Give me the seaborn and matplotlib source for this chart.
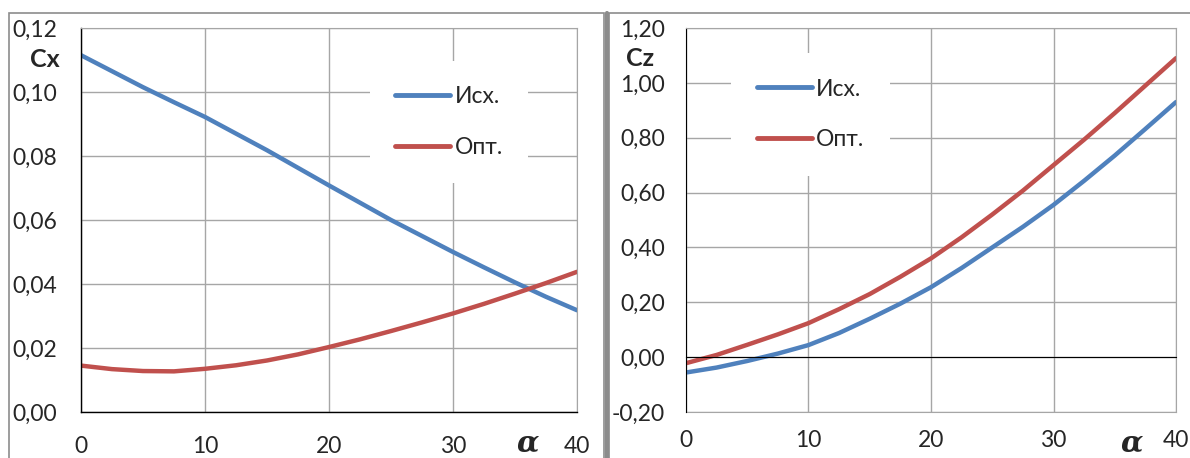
import numpy as np
import pandas as pd
import matplotlib
matplotlib.use('Agg')
import matplotlib.pyplot as plt
import matplotlib.ticker as mticker
from matplotlib.patches import Rectangle
from matplotlib.lines import Line2D
import seaborn as sns

sns.set_style('white')
plt.rcParams['font.family'] = ['Lato', 'Open Sans', 'DejaVu Sans']

# Данные (шаг 2,5 градуса)
alpha = [0, 2.5, 5, 7.5, 10, 12.5, 15, 17.5, 20, 22.5, 25, 27.5, 30, 32.5, 35, 37.5, 40]
cx_ish = [0.1115, 0.1065, 0.1015, 0.0968, 0.0922, 0.0870, 0.0818, 0.0763, 0.0708,
          0.0654, 0.0600, 0.0550, 0.0500, 0.0452, 0.0405, 0.0360, 0.0318]
cx_opt = [0.0145, 0.0134, 0.0128, 0.0127, 0.0135, 0.0146, 0.0161, 0.0180, 0.0203,
          0.0227, 0.0253, 0.0280, 0.0308, 0.0338, 0.0370, 0.0403, 0.0438]
cz_ish = [-0.056, -0.038, -0.014, 0.013, 0.044, 0.088, 0.140, 0.195, 0.255,
          0.325, 0.400, 0.475, 0.555, 0.643, 0.735, 0.832, 0.930]
cz_opt = [-0.022, 0.008, 0.045, 0.083, 0.124, 0.175, 0.230, 0.293, 0.360,
          0.437, 0.520, 0.607, 0.700, 0.793, 0.890, 0.990, 1.090]
labels = ['Исх.', 'Опт.']
colors = ['#4F81BD', '#C0504D']

GRID = '#A6A6A6'
FS = 16.5


def comma_fmt(v, pos):
    return f'{v:.2f}'.replace('.', ',').replace('-0,00', '0,00')


def make_df(a, b):
    return pd.DataFrame({
        'alpha': alpha * 2,
        'val': a + b,
        'serie': [labels[0]] * len(a) + [labels[1]] * len(b),
    })


fig = plt.figure(figsize=(11.9, 4.58), dpi=100)

# рамки панелей как в Excel
fig.add_artist(Rectangle((9 / 1190, -0.1), (604 - 9) / 1190, (458 - 13) / 458 + 0.1,
                         transform=fig.transFigure, fill=False, edgecolor='#8C8C8C', lw=1.2))
fig.add_artist(Rectangle((609 / 1190, -0.1), 0.5, (458 - 13) / 458 + 0.1,
                         transform=fig.transFigure, fill=False, edgecolor='#8C8C8C', lw=1.2))
fig.add_artist(Line2D([606.5 / 1190, 606.5 / 1190], [0, (458 - 13) / 458],
                      transform=fig.transFigure, color='#8C8C8C', lw=3))

ax1 = fig.add_axes([81 / 1190, 1 - 412 / 458, (577 - 81) / 1190, (412 - 28) / 458])
ax2 = fig.add_axes([686 / 1190, 1 - 412 / 458, (1176 - 686) / 1190, (412 - 28) / 458])

# --- Cx ---
sns.lineplot(data=make_df(cx_ish, cx_opt), x='alpha', y='val', hue='serie',
             palette=colors, linewidth=3.2, ax=ax1, legend=False)
ax1.set_xlim(0, 40)
ax1.set_ylim(0, 0.12)
ax1.set_xticks(np.arange(0, 41, 10))
ax1.set_yticks(np.arange(0, 0.121, 0.02))
ax1.yaxis.set_major_formatter(mticker.FuncFormatter(comma_fmt))
ax1.grid(True, color=GRID, lw=1)
for s in ['top', 'right']:
    ax1.spines[s].set_color(GRID)
for s in ['left', 'bottom']:
    ax1.spines[s].set_color('black')
    ax1.spines[s].set_linewidth(1)
ax1.tick_params(axis='both', labelsize=FS, length=6, width=1, color='black',
                direction='out')
ax1.tick_params(axis='y', pad=11)
ax1.tick_params(axis='x', pad=11)
ax1.set_xlabel('')
ax1.set_ylabel('')
ax1.text(-0.072, 0.917, 'Cx', transform=ax1.transAxes, fontsize=18,
         fontweight='bold', ha='center', va='center')
ax1.text(0.90, -0.08, 'α', transform=ax1.transAxes, fontsize=21,
         fontweight='bold', fontstyle='italic', family='DejaVu Serif',
         ha='center', va='center')

# --- Cz ---
sns.lineplot(data=make_df(cz_ish, cz_opt), x='alpha', y='val', hue='serie',
             palette=colors, linewidth=3.2, ax=ax2, legend=False)
ax2.set_xlim(0, 40)
ax2.set_ylim(-0.2, 1.2)
ax2.set_xticks(np.arange(0, 41, 10))
ax2.set_yticks(np.arange(-0.2, 1.21, 0.2))
ax2.yaxis.set_major_formatter(mticker.FuncFormatter(comma_fmt))
ax2.grid(True, color=GRID, lw=1)
for s in ['top', 'right']:
    ax2.spines[s].set_color(GRID)
ax2.spines['left'].set_color('black')
ax2.spines['bottom'].set_color('black')
ax2.spines['bottom'].set_position(('data', 0))
ax2.tick_params(axis='y', labelsize=FS, length=6, width=1, color='black',
                direction='out', pad=9)
ax2.tick_params(axis='x', labelbottom=False, length=8, width=1, color='black',
                direction='inout')
sec = ax2.secondary_xaxis('bottom')
sec.set_xticks(np.arange(0, 41, 10))
sec.spines['bottom'].set_color(GRID)
sec.tick_params(length=0, labelsize=FS, pad=13)
ax2.set_xlabel('')
ax2.set_ylabel('')
ax2.text(-0.094, 0.92, 'Cz', transform=ax2.transAxes, fontsize=18,
         fontweight='bold', ha='center', va='center')
ax2.text(0.91, -0.08, 'α', transform=ax2.transAxes, fontsize=21,
         fontweight='bold', fontstyle='italic', family='DejaVu Serif',
         ha='center', va='center')

# легенды
for ax, cx, cy in [(ax1, 0.742, 0.755), (ax2, 0.254, 0.775)]:
    handles = [Line2D([], [], color=c, lw=3.5) for c in colors]
    leg = ax.legend(handles, labels, loc='center', bbox_to_anchor=(cx, cy),
                    frameon=True, fontsize=FS, handlelength=2.4, handletextpad=0.2,
                    labelspacing=1.3, borderpad=1.1, fancybox=False)
    leg.get_frame().set_facecolor('white')
    leg.get_frame().set_edgecolor('none')
    leg.get_frame().set_alpha(1)

plt.savefig('out.png', dpi=100)
